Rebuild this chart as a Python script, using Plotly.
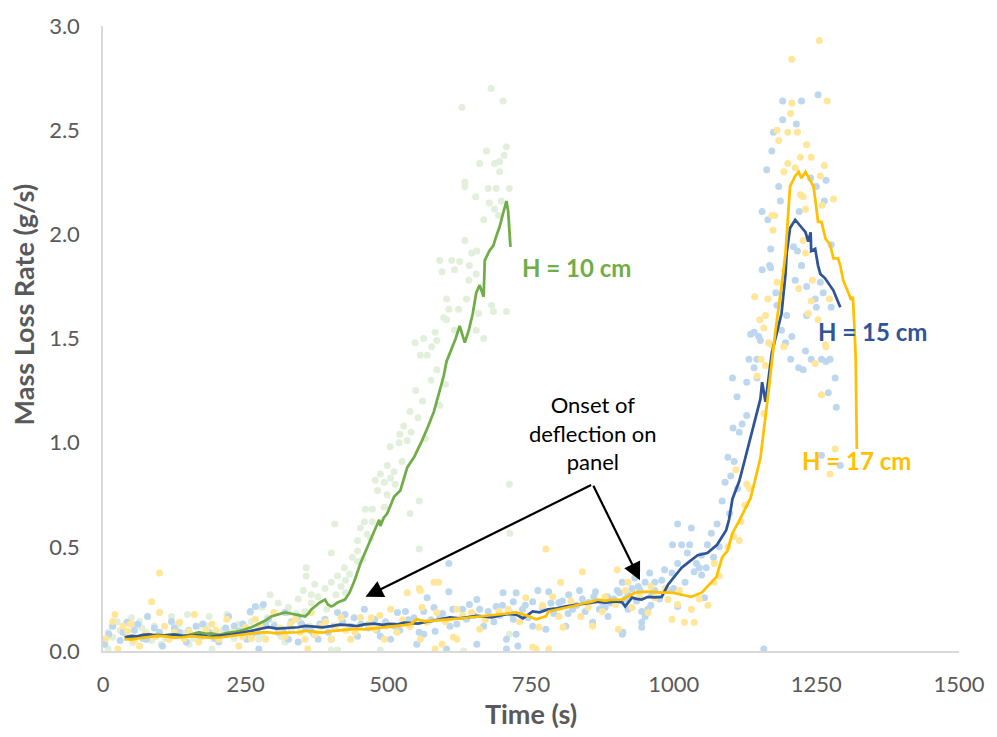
import plotly.graph_objects as go

# ---------------- data ----------------
# smoothed lines
green_line_t = [38, 50, 60, 72, 82, 95, 105, 118, 128, 140, 150, 160, 168, 180, 190, 200, 208, 218, 225, 232, 238,
                245, 250, 255, 260, 265, 270, 278, 287, 295, 307, 319, 328,
                337, 346, 354, 360, 365, 372, 380, 389, 394, 400, 405, 411, 418, 424, 432, 441, 451, 463, 476, 484,
                486, 492, 498, 504, 510, 521, 533, 545, 554, 559, 570, 580, 590, 597, 602, 611, 618, 625, 634, 641,
                648, 654, 660, 667, 669, 677, 684, 689, 695, 701, 707, 710, 712, 714]
green_line_m = [0.057, 0.064, 0.066, 0.072, 0.071, 0.078, 0.075, 0.079, 0.08, 0.074, 0.076, 0.084, 0.09, 0.082, 0.085,
                0.079, 0.08, 0.087, 0.088, 0.092, 0.095, 0.1, 0.104, 0.108, 0.114, 0.12, 0.126, 0.138,
                0.15, 0.166, 0.175, 0.185, 0.18, 0.175, 0.17, 0.166, 0.18, 0.2, 0.215, 0.233, 0.247, 0.223, 0.214,
                0.22, 0.233, 0.24, 0.247, 0.28, 0.34, 0.42, 0.50, 0.58, 0.63, 0.60, 0.64, 0.66, 0.70, 0.74,
                0.77, 0.88, 0.93, 0.98, 1.01, 1.08, 1.15, 1.25, 1.32, 1.39, 1.45, 1.50, 1.56, 1.48, 1.54,
                1.62, 1.72, 1.756, 1.70, 1.875, 1.92, 1.946, 1.99, 2.036, 2.10, 2.16, 2.11, 2.036, 1.94]

blue_line_t = [38, 50, 60, 70, 82, 95, 110, 125, 139, 155, 170, 185, 198, 212, 226, 240, 255, 272, 290, 305, 320, 342,
               355, 370, 385, 400, 415, 430, 445, 458, 475, 490, 503, 516, 528, 540, 552, 564,
               590, 608, 625, 640, 655, 667, 680, 695, 710, 724, 736, 753, 765, 780, 795, 811, 825, 840, 855, 868,
               880, 890, 900, 910, 915, 927, 935, 944, 955, 967, 979,
               990, 1002, 1014, 1028, 1042, 1059, 1076, 1092, 1097, 1103, 1115, 1123, 1132, 1141, 1152, 1155, 1161,
               1172, 1180, 1189, 1196, 1198, 1204, 1213, 1222, 1231, 1236, 1240, 1241, 1248, 1253, 1257, 1265, 1272,
               1280, 1286, 1292]
blue_line_m = [0.066, 0.072, 0.07, 0.077, 0.08, 0.073, 0.075, 0.078, 0.071, 0.074, 0.076, 0.068, 0.071, 0.077, 0.08,
               0.086, 0.095, 0.104, 0.114, 0.107, 0.11, 0.114, 0.121, 0.118, 0.113, 0.119, 0.126, 0.124, 0.12,
               0.128, 0.131, 0.125, 0.13, 0.128, 0.136, 0.134, 0.132, 0.138, 0.15, 0.161, 0.157, 0.163, 0.168,
               0.166, 0.161, 0.17, 0.178, 0.175, 0.157, 0.19, 0.186, 0.2, 0.205, 0.214, 0.219, 0.225, 0.231, 0.237,
               0.232, 0.235, 0.238, 0.233, 0.214, 0.256, 0.25, 0.247, 0.26, 0.258, 0.26, 0.318, 0.36, 0.40, 0.43,
               0.46, 0.47, 0.51, 0.58, 0.63, 0.73, 0.816, 0.90, 1.0, 1.09, 1.21, 1.29, 1.196, 1.43, 1.52, 1.62,
               1.81, 1.91, 2.03, 2.07, 2.04, 2.01, 1.965, 2.01, 1.92, 1.93, 1.85, 1.81, 1.79, 1.76, 1.73, 1.69, 1.65]

orange_line_t = [38, 50, 60, 70, 82, 95, 110, 125, 139, 155, 170, 190, 208, 225, 243, 265, 285, 305, 320, 342, 355,
                 370, 385, 400, 415, 430, 445, 458, 475, 490, 503, 516, 528, 540, 550, 564,
                 590, 608, 625, 640, 655, 667, 680, 695, 710, 724, 743, 759, 776, 781, 800, 811, 825, 840, 855, 868,
                 880, 890, 910, 932, 955, 979, 997,
                 1014, 1031, 1049, 1059, 1075, 1085, 1094, 1103, 1115, 1135, 1152, 1166, 1178, 1189, 1196, 1204,
                 1213, 1219, 1224, 1231, 1240, 1245, 1248, 1253, 1259, 1266, 1274, 1280, 1288, 1292, 1297, 1302,
                 1306, 1311, 1314, 1317, 1319, 1321]
orange_line_m = [0.057, 0.055, 0.06, 0.064, 0.066, 0.072, 0.07, 0.064, 0.066, 0.071, 0.068, 0.063, 0.066, 0.072,
                 0.08, 0.086, 0.09, 0.085, 0.088, 0.09, 0.096, 0.093, 0.088, 0.095, 0.099, 0.1, 0.106, 0.104,
                 0.109, 0.11, 0.115, 0.119, 0.124, 0.13, 0.152, 0.142, 0.15, 0.152, 0.156, 0.16, 0.163, 0.166,
                 0.172, 0.175, 0.18, 0.185, 0.17, 0.152, 0.166, 0.19, 0.2, 0.209, 0.216, 0.228, 0.236, 0.247,
                 0.241, 0.245, 0.247, 0.28, 0.285, 0.28, 0.28, 0.27, 0.26, 0.28, 0.31, 0.356,
                 0.45, 0.48, 0.565, 0.626, 0.736, 0.926, 1.24, 1.53, 1.75, 1.91, 2.23, 2.28, 2.30, 2.27, 2.30,
                 2.25, 2.23, 2.17, 2.06, 2.06, 1.98, 1.95, 1.885, 1.885, 1.85, 1.78, 1.75, 1.72, 1.685, 1.70,
                 1.54, 1.40, 0.97]

# raw measurement points (time s, mass loss rate g/s)
green_points = [
    (680, 2.70), (701, 2.64), (629, 2.61), (707, 2.42), (672, 2.40), (703, 2.38), (660, 2.34), (686, 2.34),
    (695, 2.35), (695, 2.30), (634, 2.25), (634, 2.23), (675, 2.22), (689, 2.22), (712, 2.22), (653, 2.18),
    (677, 2.15), (698, 2.16), (686, 2.12), (667, 2.07), (693, 2.09), (634, 1.97), (646, 1.91), (655, 1.92),
    (590, 1.875), (611, 1.875), (625, 1.87), (642, 1.85), (594, 1.82), (616, 1.83), (641, 1.78), (654, 1.81),
    (602, 1.69), (637, 1.69), (681, 1.66), (684, 1.63), (707, 1.63), (606, 1.64), (623, 1.64), (597, 1.60),
    (602, 1.59), (658, 1.62), (582, 1.53), (616, 1.54), (654, 1.54), (667, 1.50), (562, 1.50), (547, 1.48),
    (585, 1.49), (576, 1.46), (556, 1.42), (568, 1.42), (712, 0.80),
    (540, 1.05), (552, 1.12), (527, 1.08), (560, 1.20), (575, 1.30), (548, 1.25), (585, 1.35), (590, 1.18),
    (565, 1.02), (538, 1.15), (600, 1.28), (520, 1.04),
    (503, 0.98), (519, 1.0), (533, 1.01), (498, 0.89), (510, 0.86), (524, 0.91), (486, 0.85), (477, 0.82),
    (493, 0.81), (504, 0.83), (512, 0.80), (481, 0.77), (498, 0.75), (554, 0.72), (460, 0.68), (472, 0.68),
    (493, 0.69), (538, 0.66), (458, 0.62), (472, 0.62), (406, 0.61), (451, 0.59), (463, 0.56), (446, 0.53),
    (469, 0.54), (554, 0.49), (446, 0.48), (400, 0.47), (437, 0.45), (446, 0.43), (455, 0.44), (356, 0.40),
    (423, 0.40), (432, 0.37), (356, 0.36), (411, 0.36), (425, 0.34), (371, 0.32), (400, 0.33), (389, 0.30),
    (417, 0.31), (351, 0.29), (365, 0.27), (377, 0.26), (408, 0.27), (425, 0.28), (342, 0.25), (293, 0.27),
    (307, 0.23), (325, 0.21), (365, 0.23), (278, 0.21), (258, 0.185), (217, 0.175), (186, 0.166), (148, 0.175),
    (120, 0.166), (50, 0.16), (52, 0.128), (64, 0.142), (16, 0.119), (9, 0.09), (17, 0.066), (0, 0.04),
    (9, 0.01), (52, 0.04), (102, 0.033), (151, 0.033), (191, 0.01), (273, 0.057), (319, 0.043), (400, 0.005),
    (411, 0.005), (486, 0.005), (128, 0.104), (168, 0.119), (238, 0.128), (260, 0.142), (325, 0.185),
    (354, 0.19), (198, 0.081), (713, 0.565), (632, 0.0), (712, 0.08),
    (30, 0.10), (75, 0.09), (90, 0.12), (110, 0.06), (140, 0.085), (175, 0.07), (210, 0.10), (230, 0.06),
    (245, 0.11), (280, 0.08), (300, 0.13), (330, 0.10), (345, 0.14), (380, 0.12),
    (25, 0.14), (40, 0.08), (68, 0.11), (85, 0.05), (132, 0.13), (158, 0.06), (182, 0.12), (222, 0.09),
    (252, 0.07), (288, 0.16), (312, 0.07), (338, 0.18), (362, 0.12), (392, 0.2),
]

blue_points = [
    (3, 0.033), (17, 0.119), (42, 0.138), (61, 0.128), (78, 0.166), (76, 0.057), (99, 0.09), (104, 0.024),
    (120, 0.142), (134, 0.09), (146, 0.043), (163, 0.119), (186, 0.09), (203, 0.043), (220, 0.166),
    (238, 0.095), (252, 0.057), (258, 0.19), (281, 0.223), (290, 0.152), (307, 0.09), (325, 0.057),
    (319, 0.185), (342, 0.166), (365, 0.095), (377, 0.057), (389, 0.152), (411, 0.185), (424, 0.175),
    (434, 0.119), (446, 0.071), (458, 0.2), (476, 0.152), (486, 0.071), (504, 0.057), (516, 0.185),
    (530, 0.19), (538, 0.119), (554, 0.09), (562, 0.19), (267, 0.214), (400, 0.057), (342, 0.043), (273, 0.01),
    (10, 0.08), (30, 0.05), (55, 0.10), (90, 0.11), (115, 0.06), (150, 0.10), (175, 0.13), (195, 0.06),
    (215, 0.11), (245, 0.13), (270, 0.09), (300, 0.12), (330, 0.14), (355, 0.11), (380, 0.13), (395, 0.09),
    (420, 0.14), (440, 0.16), (465, 0.11), (495, 0.14), (520, 0.10), (545, 0.16),
    (35, 0.09), (70, 0.06), (125, 0.11), (170, 0.07), (230, 0.12), (262, 0.08), (285, 0.13), (315, 0.1),
    (348, 0.13), (370, 0.08), (405, 0.12), (452, 0.13), (480, 0.1), (510, 0.12), (535, 0.15),
    (568, 0.256), (580, 0.209), (606, 0.285), (606, 0.42), (642, 0.223), (655, 0.247), (689, 0.214),
    (701, 0.28), (719, 0.237), (724, 0.28), (753, 0.237), (762, 0.29), (781, 0.285), (799, 0.233),
    (816, 0.27), (823, 0.2), (835, 0.29), (851, 0.233), (863, 0.285), (875, 0.233), (884, 0.26), (901, 0.29),
    (910, 0.33), (920, 0.2), (927, 0.30), (932, 0.35), (941, 0.29), (944, 0.19), (944, 0.138), (944, 0.114),
    (950, 0.33), (950, 0.166), (955, 0.2), (958, 0.375), (967, 0.33), (967, 0.29), (979, 0.34), (984, 0.39),
    (990, 0.29), (997, 0.375), (1007, 0.42), (1007, 0.214), (1054, 0.256), (910, 0.08), (753, 0.119),
    (719, 0.152), (667, 0.119), (637, 0.152), (608, 0.119), (582, 0.095), (562, 0.08), (550, 0.033),
    (602, 0.01), (655, 0.033), (707, 0.057), (724, 0.08), (776, 0.104), (811, 0.119), (858, 0.138),
    (885, 0.166), (911, 0.09), (707, 0.01), (727, 0.024), (1158, 0.01),
    (575, 0.15), (595, 0.18), (620, 0.13), (630, 0.2), (650, 0.17), (675, 0.19), (685, 0.14), (700, 0.22),
    (715, 0.18), (735, 0.2), (745, 0.16), (770, 0.21), (790, 0.18), (805, 0.24), (830, 0.22), (845, 0.19),
    (860, 0.26), (880, 0.21), (895, 0.25), (905, 0.28), (920, 0.27), (935, 0.24), (960, 0.22), (975, 0.25),
    (1000, 0.3), (1020, 0.33), (1045, 0.4), (1070, 0.45), (1080, 0.5),
    (590, 0.16), (613, 0.2), (660, 0.2), (695, 0.17), (740, 0.22), (785, 0.23), (815, 0.18), (840, 0.25),
    (870, 0.2), (890, 0.23), (915, 0.25), (938, 0.31), (962, 0.27),
    (1007, 0.61), (1031, 0.59), (998, 0.51), (1014, 0.51), (1028, 0.51), (1024, 0.47), (1049, 0.46),
    (1066, 0.565), (1076, 0.61), (1059, 0.51), (1040, 0.42), (1057, 0.40), (1036, 0.38), (1049, 0.365),
    (1085, 0.72), (1098, 0.66), (1090, 0.81), (1100, 0.84), (1112, 0.78), (1095, 0.93), (1106, 0.91),
    (1104, 1.07), (1120, 1.09), (1115, 1.05), (1128, 1.13), (1111, 1.22), (1103, 1.31), (1128, 1.29),
    (1146, 1.31), (1132, 1.40), (1146, 1.40), (1141, 1.36), (1135, 1.52), (1141, 1.53), (1149, 1.51),
    (1152, 1.49), (1155, 1.83), (1170, 1.84), (1179, 1.72), (1181, 1.66), (1189, 1.54), (1196, 1.48),
    (1198, 1.61), (1205, 1.40), (1207, 1.51), (1213, 1.78), (1219, 1.36), (1224, 1.85), (1227, 1.35),
    (1231, 1.44), (1233, 1.75), (1233, 1.61), (1241, 1.40), (1248, 1.69), (1250, 1.65), (1257, 1.77),
    (1259, 1.40), (1262, 1.72), (1267, 1.39), (1274, 1.40), (1276, 1.65), (1271, 1.24), (1283, 1.31),
    (1285, 1.17), (1259, 0.94), (1292, 0.89),
    (1191, 2.64), (1224, 2.64), (1253, 2.67), (1191, 2.55), (1215, 2.53), (1175, 2.49), (1172, 2.40),
    (1163, 2.31), (1184, 2.23), (1250, 2.23), (1267, 2.26), (1240, 2.27), (1187, 2.16), (1264, 2.16),
    (1155, 2.11), (1165, 2.07), (1220, 2.11), (1170, 1.93), (1210, 1.94), (1217, 1.92), (1276, 1.95),
    (1224, 1.85), (1168, 1.85),
]

orange_points = [
    (99, 0.375), (85, 0.237), (21, 0.175), (17, 0.142), (26, 0.01), (43, 0.095), (64, 0.024), (99, 0.185),
    (108, 0.119), (116, 0.057), (134, 0.138), (151, 0.095), (160, 0.175), (168, 0.043), (191, 0.128),
    (203, 0.057), (217, 0.152), (238, 0.024), (250, 0.114), (267, 0.152), (285, 0.057), (299, 0.185),
    (319, 0.071), (337, 0.152), (354, 0.057), (365, 0.185), (382, 0.119), (400, 0.057), (417, 0.161),
    (434, 0.057), (451, 0.161), (476, 0.104), (493, 0.057), (504, 0.2), (533, 0.28), (554, 0.30),
    (538, 0.119), (556, 0.057), (359, 0.01),
    (5, 0.06), (35, 0.12), (55, 0.05), (75, 0.08), (125, 0.09), (180, 0.1), (230, 0.09), (260, 0.06),
    (310, 0.11), (345, 0.09), (390, 0.14), (425, 0.1), (465, 0.13), (485, 0.17), (515, 0.09), (525, 0.15),
    (48, 0.13), (92, 0.07), (142, 0.06), (198, 0.1), (245, 0.07), (275, 0.12), (328, 0.13), (372, 0.08),
    (408, 0.12), (442, 0.09), (470, 0.16), (498, 0.12),
    (776, 0.49), (580, 0.33), (588, 0.33), (556, 0.29), (840, 0.38), (901, 0.39), (802, 0.33), (1071, 0.42),
    (1115, 0.53), (920, 0.33), (788, 0.26), (741, 0.256), (620, 0.2), (585, 0.185), (646, 0.185),
    (694, 0.19), (799, 0.166), (837, 0.166), (875, 0.19), (898, 0.223), (967, 0.256), (990, 0.247),
    (1031, 0.2), (1007, 0.223), (1019, 0.138), (1036, 0.138), (997, 0.152), (927, 0.209), (955, 0.185),
    (1071, 0.33), (614, 0.066), (620, 0.057), (582, 0.01), (753, 0.019), (594, 0.033), (660, 0.104),
    (764, 0.114), (806, 0.114), (858, 0.119), (903, 0.104), (568, 0.138), (559, 0.209), (759, 0.01),
    (781, 0.01),
    (600, 0.14), (630, 0.17), (670, 0.15), (710, 0.2), (730, 0.14), (770, 0.22), (820, 0.24), (850, 0.21),
    (880, 0.26), (915, 0.29), (940, 0.26), (960, 0.31), (985, 0.3), (1010, 0.29), (1045, 0.25), (1060, 0.22),
    (1080, 0.36), (1095, 0.50), (1105, 0.55), (1118, 0.62), (1125, 0.70), (1133, 0.78),
    (1181, 1.77), (1142, 1.70), (1165, 1.69), (1151, 1.59), (1161, 1.61), (1158, 1.55), (1219, 1.74),
    (1243, 1.78), (1236, 1.62), (1241, 1.68), (1253, 1.59), (1273, 1.69), (1153, 1.40), (1166, 1.48),
    (1267, 1.46), (1248, 1.38), (1146, 1.32), (1259, 1.23), (1158, 1.14), (1109, 0.87), (1283, 0.97),
    (1274, 0.85), (1128, 0.80), (1172, 1.47), (1161, 1.37), (1193, 1.46), (1266, 1.47),
    (1255, 2.93), (1207, 2.84), (1207, 2.63), (1269, 2.64), (1205, 2.58), (1181, 2.50), (1200, 2.49),
    (1217, 2.49), (1184, 2.45), (1233, 2.43), (1222, 2.37), (1241, 2.37), (1200, 2.34), (1264, 2.33),
    (1193, 2.30), (1213, 2.32), (1257, 2.28), (1222, 2.19), (1227, 2.18), (1280, 2.17), (1260, 2.14),
    (1172, 2.09), (1177, 2.09), (1231, 2.12), (1174, 2.02), (1227, 1.97), (1231, 1.91),
]

x_ticks = [0, 250, 500, 750, 1000, 1250, 1500]
y_ticks = [0.0, 0.5, 1.0, 1.5, 2.0, 2.5, 3.0]

# ---------------- styling ----------------
FONT = "Lato"
GREY = "#595959"
C_GREEN, C_BLUE, C_ORANGE = "#70ad47", "#2f5597", "#ffc000"
L_GREEN, L_BLUE, L_ORANGE = "#e2efda", "#bdd7ee", "#ffe699"

fig = go.Figure()

for pts, col in [(green_points, L_GREEN), (blue_points, L_BLUE), (orange_points, L_ORANGE)]:
    fig.add_trace(go.Scatter(
        x=[p[0] for p in pts], y=[p[1] for p in pts], mode="markers",
        marker=dict(size=7, color=col, line=dict(width=0)),
        showlegend=False, hoverinfo="skip"))

for xs, ys, col in [(green_line_t, green_line_m, C_GREEN),
                    (blue_line_t, blue_line_m, C_BLUE),
                    (orange_line_t, orange_line_m, C_ORANGE)]:
    fig.add_trace(go.Scatter(x=xs, y=ys, mode="lines",
                             line=dict(color=col, width=2.75),
                             showlegend=False))

# series labels
fig.add_annotation(x=830, y=1.84, text="<b>H = 10 cm</b>", showarrow=False,
                   font=dict(family=FONT, size=24, color=C_GREEN))
fig.add_annotation(x=1349, y=1.535, text="<b>H = 15 cm</b>", showarrow=False,
                   font=dict(family=FONT, size=24, color=C_BLUE))
fig.add_annotation(x=1320, y=0.915, text="<b>H = 17 cm</b>", showarrow=False,
                   font=dict(family=FONT, size=24, color=C_ORANGE))

# note with arrows
fig.add_annotation(x=858, y=1.045, text="Onset of<br>deflection on<br>panel", showarrow=False,
                   font=dict(family=FONT, size=22, color="black"), align="center")
for hx, hy in [(460, 0.26), (941, 0.34)]:
    fig.add_annotation(x=hx, y=hy, ax=858, ay=0.80, axref="x", ayref="y", xref="x", yref="y",
                       text="", showarrow=True, arrowhead=2, arrowsize=1.6, arrowwidth=2.2,
                       arrowcolor="black", standoff=0, startstandoff=0)

# y-axis title placed as rotated text (reference sits above the plot centre)
fig.add_annotation(xref="paper", yref="paper", x=-0.0926, y=0.554, xanchor="center", yanchor="middle",
                   textangle=-90, text="<b>Mass Loss Rate (g/s)</b>", showarrow=False,
                   font=dict(family=FONT, size=27, color=GREY))

fig.update_layout(
    width=997, height=737,
    margin=dict(l=103, r=30, t=20, b=85),
    plot_bgcolor="white", paper_bgcolor="white",
    font=dict(family=FONT, color=GREY),
    xaxis=dict(range=[0, 1500], tickvals=x_ticks, tickformat="d",
               showgrid=False, zeroline=False, showline=True, linecolor="#d9d9d9", linewidth=1.5,
               ticks="outside", ticklen=13, tickcolor="rgba(0,0,0,0)",
               tickfont=dict(family=FONT, size=22, color=GREY),
               title=dict(text="<b>Time (s)</b>", font=dict(family=FONT, size=27, color=GREY), standoff=9)),
    yaxis=dict(range=[0, 3.0], tickvals=y_ticks, tickformat=".1f",
               showgrid=False, zeroline=False, showline=True, linecolor="#d9d9d9", linewidth=1.5,
               ticks="outside", ticklen=17, tickcolor="rgba(0,0,0,0)",
               tickfont=dict(family=FONT, size=22, color=GREY)),
)

fig.write_html("out.html")
